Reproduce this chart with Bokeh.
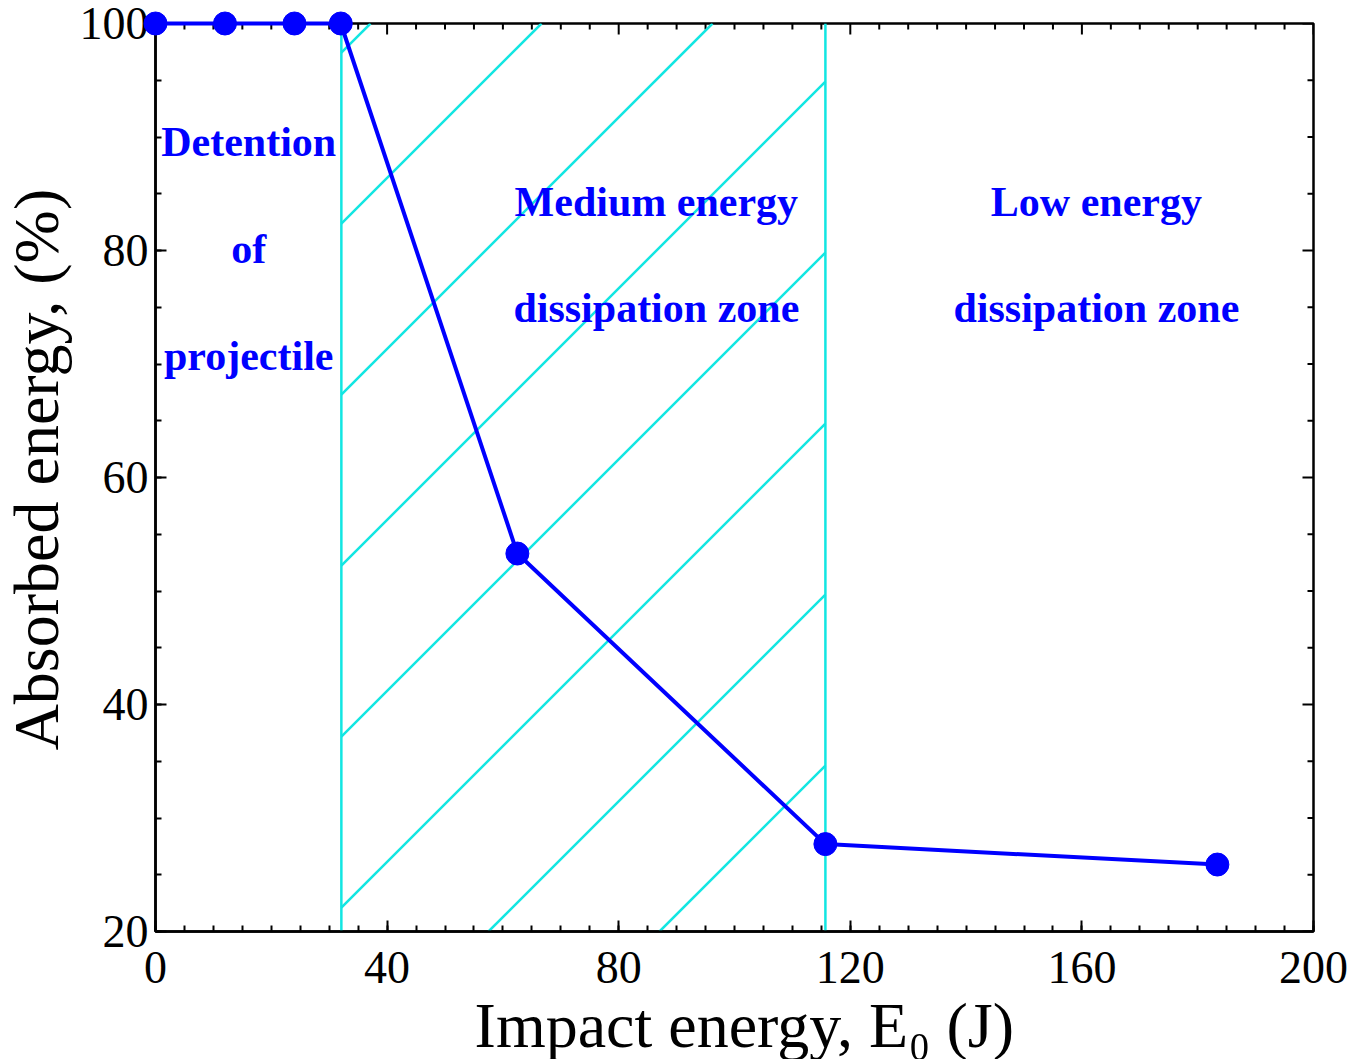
import math
import numpy as np
from bokeh.plotting import figure
from bokeh.models import Range1d, LinearAxis, SingleIntervalTicker, ColumnDataSource
from bokeh.embed import file_html
from bokeh.resources import INLINE
from bokeh.core.properties import value

# ---------------- data ----------------
impact_energy = [0, 12, 24, 32, 62.5, 115.7, 183.4]
absorbed_energy = [100, 100, 100, 100, 53.3, 27.7, 25.9]
zone_edges = [32.1, 115.7]
x_limits = [0, 200]
y_limits = [20, 100]
x_major_step = 40
y_major_step = 20
x_minor_step = 5
y_minor_step = 5
x_title = "Impact energy, E\u2080 (J)"
y_title = "Absorbed energy, (%)"
zone_texts = ["Detention", "of", "projectile",
              "Medium energy", "dissipation zone",
              "Low energy", "dissipation zone"]

# ---------------- layout / style ----------------
W, H = 1360, 1059
BL, BR, BT, BB = 155, 47, 23, 128
frame_w = W - BL - BR
frame_h = H - BT - BB
SERIF = "Liberation Serif"
BLUE = "#0000ff"
CYAN = "#12e6e2"
MAJOR_LEN, MINOR_LEN = 11, 6

p = figure(width=W, height=H,
           x_range=Range1d(*x_limits), y_range=Range1d(*y_limits),
           x_axis_type=None, y_axis_type=None,
           output_backend="svg", toolbar_location=None,
           min_border_left=BL, min_border_right=BR,
           min_border_top=BT, min_border_bottom=BB)
p.outline_line_color = "black"
p.outline_line_width = 2.5
p.background_fill_color = "white"
p.border_fill_color = "white"


def make_axis(step, nminor, standoff):
    ax = LinearAxis(ticker=SingleIntervalTicker(interval=step, num_minor_ticks=nminor))
    ax.axis_line_color = "black"
    ax.axis_line_width = 2.5
    ax.major_tick_in = MAJOR_LEN
    ax.major_tick_out = 0
    ax.minor_tick_in = MINOR_LEN
    ax.minor_tick_out = 0
    ax.major_tick_line_width = 2
    ax.minor_tick_line_width = 2
    ax.major_tick_line_color = "black"
    ax.minor_tick_line_color = "black"
    ax.major_label_text_font = SERIF
    ax.major_label_text_color = "black"
    ax.major_label_text_font_size = "46px"
    ax.major_label_standoff = standoff
    return ax


p.add_layout(make_axis(x_major_step, x_major_step // x_minor_step, 20), "below")
p.add_layout(make_axis(y_major_step, y_major_step // y_minor_step, 7), "left")

px_per_x = frame_w / (x_limits[1] - x_limits[0])
px_per_y = frame_h / (y_limits[1] - y_limits[0])

# mirrored ticks on top and right edges
xt = np.arange(x_limits[0], x_limits[1] + 0.001, x_minor_step)
yt = np.arange(y_limits[0], y_limits[1] + 0.001, y_minor_step)
x_len = np.where(np.isclose(np.mod(xt, x_major_step), 0), MAJOR_LEN, MINOR_LEN)
y_len = np.where(np.isclose(np.mod(yt, y_major_step), 0), MAJOR_LEN, MINOR_LEN)
p.segment(x0=xt, y0=np.full_like(xt, y_limits[1]), x1=xt,
          y1=y_limits[1] - x_len / px_per_y, line_color="black", line_width=2)
p.segment(x0=np.full_like(yt, x_limits[1]), y0=yt, x1=x_limits[1] - y_len / px_per_x,
          y1=yt, line_color="black", line_width=2)

# ---------------- hatched medium-energy zone ----------------
hatch_spacing_px = 171.0
hatch_phase_px = 162.0
uL = (zone_edges[0] - x_limits[0]) * px_per_x
uR = (zone_edges[1] - x_limits[0]) * px_per_x
hx0, hy0, hx1, hy1 = [], [], [], []
k_lo = math.floor((uL - frame_h - hatch_phase_px) / hatch_spacing_px) - 1
k_hi = math.ceil((uR - hatch_phase_px) / hatch_spacing_px) + 1
for k in range(k_lo, k_hi + 1):
    d = hatch_phase_px + k * hatch_spacing_px  # line: u - v = d
    ua = max(uL, d)
    ub = min(uR, frame_h + d)
    if ub - ua <= 2:
        continue
    hx0.append(x_limits[0] + ua / px_per_x)
    hy0.append(y_limits[0] + (ua - d) / px_per_y)
    hx1.append(x_limits[0] + ub / px_per_x)
    hy1.append(y_limits[0] + (ub - d) / px_per_y)

p.segment(x0=hx0, y0=hy0, x1=hx1, y1=hy1, line_color=CYAN, line_width=2.5)
p.segment(x0=zone_edges, y0=[y_limits[0]] * 2, x1=zone_edges, y1=[y_limits[1]] * 2,
          line_color=CYAN, line_width=2.5)

# ---------------- zone labels ----------------
zone_text_x = [16.1, 16.1, 16.1, 86.5, 86.5, 162.5, 162.5]
zone_text_y = [89.6, 80.1, 70.7, 84.3, 74.9, 84.3, 74.9]
txt_src = ColumnDataSource(dict(x=zone_text_x, y=zone_text_y, t=zone_texts))
p.text(x="x", y="y", text="t", source=txt_src,
       text_font=value(SERIF), text_font_style="bold", text_font_size="42px",
       text_color=BLUE, text_align="center", text_baseline="alphabetic")

# ---------------- data series ----------------
src = ColumnDataSource(dict(x=impact_energy, y=absorbed_energy))
ln = p.line(x="x", y="y", source=src, line_color=BLUE, line_width=4)
sc = p.scatter(x="x", y="y", source=src, size=23, fill_color=BLUE, line_color=BLUE)
ln.level = "overlay"
sc.level = "overlay"

# ---------------- axis titles (drawn unclipped) ----------------
tx = p.text(x=[101.7], y=[11.7], text=[x_title], text_align="center",
            text_baseline="alphabetic", text_font=value(SERIF),
            text_font_size="64px", text_color="black")
ty = p.text(x=[-20.6], y=[60.7], text=[y_title], angle=math.pi / 2,
            text_align="center", text_baseline="alphabetic",
            text_font=value(SERIF), text_font_size="64px", text_color="black")
tx.level = "overlay"
ty.level = "overlay"

open("out.html", "w").write(file_html(p, INLINE))
